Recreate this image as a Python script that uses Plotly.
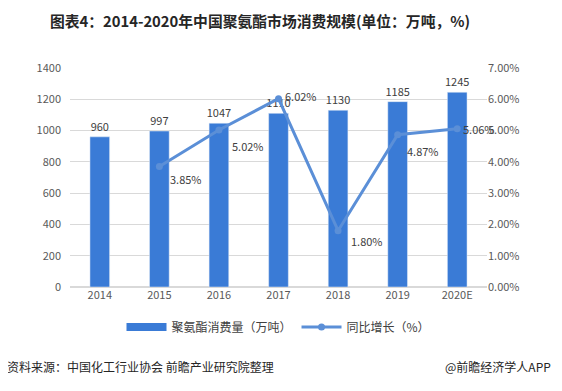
import plotly.graph_objects as go

years = ["2014", "2015", "2016", "2017", "2018", "2019", "2020E"]
consumption = [960, 997, 1047, 1110, 1130, 1185, 1245]
growth_years = ["2015", "2016", "2017", "2018", "2019", "2020E"]
growth = [0.0385, 0.0502, 0.0602, 0.0180, 0.0487, 0.0506]
growth_labels = ["3.85%", "5.02%", "6.02%", "1.80%", "4.87%", "5.06%"]
label_shift = [(15, -12), (17, -16), (10, 3), (17, -10), (13, -16), (10, 0)]

FONT = "Noto Sans CJK SC"
BAR_C = "#3a7bd6"
LINE_C = "#5b8fd7"

# the page body adds an 8px offset, so the figure is drawn 8px smaller
W, H = 554, 383
L, R, T, B = 62, 75, 60, 104
PW = W - L - R
PH = H - T - B

fig = go.Figure()
fig.add_trace(go.Bar(
    x=years, y=consumption, name="聚氨酯消费量（万吨）",
    marker=dict(color=BAR_C), width=0.33, showlegend=False,
    text=[str(v) for v in consumption], textposition="outside",
    constraintext="none",
    textfont=dict(size=11, color="#404040", family=FONT),
    cliponaxis=False,
))
# legend entry drawn as a wide rectangle like the reference
fig.add_trace(go.Scatter(
    x=[None], y=[None], name="聚氨酯消费量（万吨）", mode="lines",
    line=dict(color=BAR_C, width=8),
))
fig.add_trace(go.Scatter(
    x=growth_years, y=growth, name="同比增长（%）", yaxis="y2",
    mode="lines+markers",
    line=dict(color=LINE_C, width=3),
    marker=dict(color=LINE_C, size=7),
))
for xv, yv, t, (dx, dy) in zip(growth_years, growth, growth_labels, label_shift):
    fig.add_annotation(x=years.index(xv), y=yv, xref="x", yref="y2", text=t, showarrow=False,
                       xanchor="left", yanchor="middle", xshift=dx - 6, yshift=dy,
                       font=dict(size=11, color="#404040", family=FONT))

fig.update_layout(
    width=W, height=H,
    margin=dict(l=L, r=R, t=T, b=B),
    paper_bgcolor="white", plot_bgcolor="white",
    font=dict(family=FONT, color="#595959", size=11),
    title=dict(text="<b>图表4：2014-2020年中国聚氨酯市场消费规模(单位：万吨，%)</b>",
               xref="container", yref="container",
               x=252 / W, xanchor="center", y=1 - 14 / H, yanchor="middle",
               font=dict(size=14.8, color="#262626", family=FONT)),
    xaxis=dict(type="category", range=[-0.5, 6.5], autorange=False,
               showgrid=False, showline=False, ticks="",
               tickfont=dict(size=11, color="#595959")),
    yaxis=dict(range=[0, 1400], dtick=200, showgrid=True, gridcolor="#d9d9d9",
               zeroline=True, zerolinecolor="#d9d9d9", showline=False,
               tickfont=dict(size=11, color="#595959"), ticklabelstandoff=8),
    yaxis2=dict(range=[0, 0.07], dtick=0.01, tickformat=".2%", overlaying="y",
                side="right", showgrid=False, zeroline=False, showline=False,
                tickfont=dict(size=11, color="#595959")),
    bargap=0.67,
    showlegend=True,
    legend=dict(orientation="h", x=0.5, xanchor="center", y=-40 / PH, yanchor="middle",
                font=dict(size=12, color="#404040", family=FONT),
                traceorder="normal", itemwidth=40),
)
fig.add_annotation(x=(-3 - L) / PW, xref="paper", y=-79 / PH, yref="paper", xanchor="left",
                   yanchor="middle", showarrow=False,
                   text="资料来源：中国化工行业协会 前瞻产业研究院整理",
                   font=dict(size=12, color="#262626", family=FONT))
fig.add_annotation(x=(435 - L) / PW, xref="paper", y=-79 / PH, yref="paper", xanchor="left",
                   yanchor="middle", showarrow=False,
                   text="@前瞻经济学人APP",
                   font=dict(size=12, color="#262626", family=FONT))

fig.write_html("out.html")
